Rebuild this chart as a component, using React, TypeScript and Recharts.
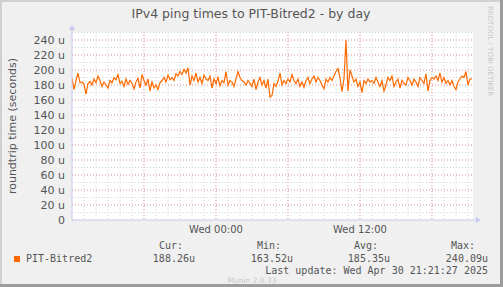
import { LineChart, Line, XAxis, YAxis, CartesianGrid } from 'recharts';

// ping samples (microseconds), one every 10 minutes starting Tue 12:00
const pingValues = [
  189, 174, 186, 196, 183, 184, 181, 168, 182, 185,
  180, 188, 183, 192, 186, 178, 184, 180, 176, 186,
  183, 190, 187, 194, 182, 185, 178, 188, 181, 186,
  182, 175, 184, 189, 176, 194, 186, 180, 188, 172,
  184, 176, 180, 174, 183, 186, 190, 184, 193, 187,
  190, 186, 195, 192, 198, 194, 201, 196, 203, 180,
  192, 186, 196, 184, 190, 182, 193, 188, 186, 192,
  176, 188, 182, 190, 179, 186, 183, 198, 180, 186,
  184, 178, 188, 198, 190, 186, 184, 180, 186, 182,
  178, 188, 174, 184, 190, 180, 186, 176, 188, 164,
  166, 182, 178, 185, 196, 180, 186, 182, 188, 184,
  194, 186, 182, 188, 178, 184, 177, 186, 190, 182,
  188, 192, 184, 190, 186, 180, 175, 188, 184, 190,
  186, 192, 198, 202, 190, 171, 188, 240, 172, 200,
  192, 184, 188, 178, 184, 170, 186, 182, 188, 184,
  186, 182, 190, 184, 178, 186, 172, 180, 190, 186,
  192, 178, 184, 188, 176, 186, 182, 180, 190, 186,
  180, 188, 184, 178, 190, 186, 182, 195, 172, 186,
  190, 188, 192, 186, 196, 184, 190, 182, 186, 180,
  186, 178, 174, 184, 188, 192, 190, 198, 180, 188,
  188.26,
];

// hours relative to Wed 00:00
const startHour = -12;
const stepHour = 1 / 6;
const xDomain = [-12, 21.42];
const xLabelTicks = [0, 12];
const xLabels = ['Wed 00:00', 'Wed 12:00'];
const minorHours = [-11, -10, -9, -8, -7, -6, -5, -4, -3, -2, -1, 0, 1, 2, 3, 4, 5, 6, 7, 8, 9, 10, 11, 12, 13, 14, 15, 16, 17, 18, 19, 20, 21];
const majorHours = [-6, 0, 6, 12, 18];

const yTicks = [0, 20, 40, 60, 80, 100, 120, 140, 160, 180, 200, 220, 240];
const minorY = [10, 20, 30, 40, 50, 60, 70, 80, 90, 100, 110, 120, 130, 140, 150, 160, 170, 180, 190, 200, 210, 220, 230, 240, 250];
const majorY = [20, 40, 60, 80, 100, 120, 140, 160, 180, 200, 220, 240];

const legendHeads = ['Cur:', 'Min:', 'Avg:', 'Max:'];
const legendValues = ['188.26u', '163.52u', '185.35u', '240.09u'];

const data = pingValues.map((v, i) => ({ t: startHour + i * stepHour, v }));

const LINE = '#ff6a00';
const TXT = '#555';
const MONO = '"DejaVu Sans Mono", monospace';
const SANS = '"DejaVu Sans", sans-serif';

const App = () => {
  const headEnds = [183, 281, 378, 475];
  const valueEnds = [195, 293, 390, 488];
  return (
    <div style={{ position: 'absolute', left: 0, top: 0, width: 503, height: 287, background: '#f0f0f0', fontFamily: SANS }}>
      <LineChart width={503} height={287} data={data} margin={{ top: 32, right: 30, bottom: 37, left: 0 }}>
        <CartesianGrid fill="#fff" stroke="#d4d4d4" strokeDasharray="1 2"
          horizontalValues={minorY} verticalValues={minorHours} />
        <CartesianGrid fill="none" stroke="#eaa0a0" strokeDasharray="1 2"
          horizontalValues={majorY} verticalValues={majorHours} />
        <XAxis dataKey="t" type="number" domain={xDomain} ticks={xLabelTicks} height={30} interval={0}
          tickFormatter={(t: number) => xLabels[xLabelTicks.indexOf(t)]}
          axisLine={{ stroke: '#c8c8f0' }} tickLine={false}
          tick={{ fill: TXT, fontSize: 10, fontFamily: SANS }} tickMargin={0} allowDataOverflow />
        <YAxis type="number" domain={[0, 250.7]} ticks={yTicks} width={72} interval={0}
          tickFormatter={(v: number) => (v === 0 ? '0' : `${v} u`)}
          axisLine={{ stroke: '#c8c8f0' }} tickLine={false}
          tick={{ fill: TXT, fontSize: 11, fontFamily: SANS }} tickMargin={1} allowDataOverflow />
        <Line dataKey="v" stroke={LINE} strokeWidth={1.2} dot={false} isAnimationActive={false} />
      </LineChart>

      <svg width={503} height={287} style={{ position: 'absolute', left: 0, top: 0, pointerEvents: 'none' }}>
        {/* frame */}
        <rect x={0} y={0} width={503} height={2} fill="#d0d0d0" />
        <rect x={0} y={0} width={2} height={287} fill="#d0d0d0" />
        <rect x={500} y={0} width={3} height={287} fill="#9c9c9c" />
        <rect x={0} y={284} width={503} height={3} fill="#9c9c9c" />

        {/* axis arrows */}
        <line x1={72} y1={27} x2={72} y2={32} stroke="#c8c8f0" />
        <polygon points="69,30 75,30 72,25" fill="#c8c8f0" />
        <line x1={473} y1={220} x2={478} y2={220} stroke="#c8c8f0" />
        <polygon points="476,217 476,223 481,220" fill="#c8c8f0" />

        <text x={251} y={18} textAnchor="middle" fontSize={12.5} fill={TXT} fontFamily={SANS}>
          IPv4 ping times to PIT-Bitred2 - by day
        </text>
        <text x={16} y={126} textAnchor="middle" fontSize={11} fill={TXT} fontFamily={SANS}
          transform="rotate(-90 16 126)">roundtrip time (seconds)</text>
        <text x={488} y={6} fontSize={7} fill="#c8c8c8" fontFamily={SANS}
          transform="rotate(90 488 6)">RRDTOOL / TOBI OETIKER</text>

        <rect x={14} y={256} width={6} height={6} fill={LINE} />
        <text x={26} y={262} fontSize={10} fill={TXT} fontFamily={MONO}>PIT-Bitred2</text>
        {legendHeads.map((h, i) => (
          <text key={h} x={headEnds[i]} y={249} textAnchor="end" fontSize={10} fill={TXT} fontFamily={MONO}>{h}</text>
        ))}
        {legendValues.map((v, i) => (
          <text key={v} x={valueEnds[i]} y={262} textAnchor="end" fontSize={10} fill={TXT} fontFamily={MONO}>{v}</text>
        ))}
        <text x={488} y={274} textAnchor="end" fontSize={10} fill={TXT} fontFamily={MONO}>
          Last update: Wed Apr 30 21:21:27 2025
        </text>
        <text x={252} y={283} textAnchor="middle" fontSize={7.5} fill="#c8c8c8" fontFamily={SANS}>Munin 2.0.33</text>
      </svg>
    </div>
  );
};

export default App;
